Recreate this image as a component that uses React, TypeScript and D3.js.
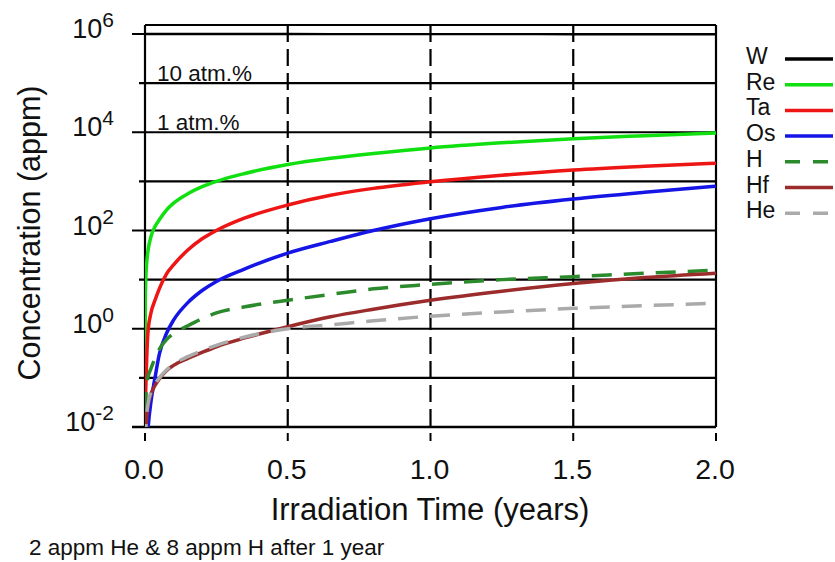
import React from "react";
import * as d3 from "d3";

const T = [0.00002, 0.001, 0.003, 0.006, 0.01, 0.02, 0.035, 0.05, 0.075, 0.1, 0.15, 0.2, 0.25, 0.35, 0.5, 0.65, 0.8, 1.0, 1.25, 1.5, 1.75, 2.0];

const W = [1000000, 999990, 999970, 999940, 999900, 999800, 999700, 999600, 999500, 999400, 999100, 998800, 998500, 998000, 997300, 996500, 995700, 994700, 993300, 991800, 990400, 988800];
const Re = [0.07, 3.5, 11, 22, 37, 72, 120, 165, 260, 360, 560, 780, 1000, 1450, 2200, 2950, 3700, 4800, 6100, 7400, 8500, 9600];
const Ta = [0.001, 0.02, 0.07, 0.25, 0.8, 2, 3.8, 6.5, 13, 20, 40, 68, 100, 180, 330, 520, 720, 980, 1330, 1700, 2030, 2350];
const Os = [0.0001, 0.0005, 0.001, 0.003, 0.008, 0.03, 0.1, 0.3, 0.8, 1.5, 3.4, 6.0, 9.2, 16.6, 34.7, 60, 100, 174, 295, 436, 600, 800];
const H = [0.001, 0.02, 0.04, 0.07, 0.1, 0.15, 0.25, 0.38, 0.6, 0.8, 1.15, 1.6, 2.1, 2.8, 3.8, 5, 6.5, 8, 10, 11.5, 13.5, 15.5];
const Hf = [0.001, 0.003, 0.008, 0.015, 0.025, 0.045, 0.07, 0.095, 0.14, 0.18, 0.25, 0.33, 0.43, 0.65, 1.1, 1.75, 2.5, 3.8, 5.8, 8.3, 11, 13.5];
const He = [0.001, 0.004, 0.01, 0.018, 0.028, 0.05, 0.075, 0.1, 0.145, 0.19, 0.27, 0.36, 0.46, 0.68, 1.0, 1.2, 1.45, 1.8, 2.2, 2.6, 2.95, 3.3];

const SERIES_NAMES = ["W", "Re", "Ta", "Os", "H", "Hf", "He"];
const SERIES_VALUES = [W, Re, Ta, Os, H, Hf, He];
const SERIES_COLORS = ["#000000", "#10e010", "#ee1515", "#1515e6", "#2b8a2b", "#9c2b2b", "#aaaaaa"];
const SERIES_DASHED = [false, false, false, false, true, false, true];

const X_TICKS = [0, 0.5, 1.0, 1.5, 2.0];
const X_DASHED = [0.5, 1.0, 1.5];
const Y_DECADES = [6, 5, 4, 3, 2, 1, 0, -1, -2];
const Y_LABELED = [6, 4, 2, 0, -2];
const ANNOTATIONS = [
  { text: "10 atm.%", value: 1e5 },
  { text: "1 atm.%", value: 1e4 },
];

const FONT = "'Liberation Sans', Arial, Helvetica, sans-serif";

export default function App() {
  const left = 145, right = 716, top = 25, bottom = 427;
  const x = d3.scaleLinear().domain([0, 2]).range([left, right]);
  const y = d3.scaleLog().domain([1e-2, 1e6]).range([bottom, 34]);
  const line = d3
    .line<number>()
    .x((_, i) => x(T[i]))
    .y((v) => y(Math.max(v, 1e-4)))
    .curve(d3.curveMonotoneX);

  const legendX0 = 785, legendX1 = 833, legendY0 = 59, legendStep = 25.7;

  return (
    <svg width={835} height={562} style={{ position: "absolute", left: 0, top: 0, background: "#fff" }} fontFamily={FONT}>
      <defs>
        <clipPath id="plot">
          <rect x={left} y={top} width={right - left} height={bottom - top} />
        </clipPath>
      </defs>
      <rect width={835} height={562} fill="#fff" />

      {Y_DECADES.map((d) => (
        <line key={"g" + d} x1={Y_LABELED.includes(d) ? 132 : 139} x2={right} y1={y(Math.pow(10, d))} y2={y(Math.pow(10, d))} stroke="#000" strokeWidth={2.2} />
      ))}

      {X_DASHED.map((t) => (
        <line key={"v" + t} x1={x(t)} x2={x(t)} y1={top} y2={bottom} stroke="#000" strokeWidth={2.2} strokeDasharray="17 7" />
      ))}

      <line x1={left} x2={right} y1={top} y2={top} stroke="#000" strokeWidth={2.2} />
      <line x1={left} x2={left} y1={top} y2={bottom} stroke="#000" strokeWidth={2.2} />
      <line x1={right} x2={right} y1={top} y2={bottom} stroke="#000" strokeWidth={2.2} />
      <line x1={132} x2={right} y1={bottom} y2={bottom} stroke="#000" strokeWidth={2.4} />

      {X_TICKS.map((t) => (
        <line key={"xt" + t} x1={x(t)} x2={x(t)} y1={433} y2={441} stroke="#000" strokeWidth={2} />
      ))}

      {ANNOTATIONS.map((a) => (
        <text key={a.text} x={157} y={y(a.value) - 2} fontSize={22.5} fill="#111">
          {a.text}
        </text>
      ))}

      <g clipPath="url(#plot)">
        {SERIES_VALUES.map((vals, i) => (
          <path
            key={SERIES_NAMES[i]}
            d={line(vals) || ""}
            fill="none"
            stroke={SERIES_COLORS[i]}
            strokeWidth={i === 0 ? 2.4 : 3.5}
            strokeDasharray={SERIES_DASHED[i] ? "20 12" : undefined}
          />
        ))}
      </g>

      {Y_LABELED.map((d) => (
        <text key={"yl" + d} x={114} y={y(Math.pow(10, d)) + 4} textAnchor="end" fontSize={27} fill="#111">
          10
          <tspan dy={-11} fontSize={21}>
            {d < 0 ? "-" + Math.abs(d) : String(d)}
          </tspan>
        </text>
      ))}

      {X_TICKS.map((t) => (
        <text key={"xl" + t} x={x(t) - 1} y={479} textAnchor="middle" fontSize={28.5} fill="#111">
          {t.toFixed(1)}
        </text>
      ))}

      <text x={430} y={520} textAnchor="middle" fontSize={31} fill="#111">
        Irradiation Time (years)
      </text>
      <text transform="translate(40,233) rotate(-90)" textAnchor="middle" fontSize={30.5} fill="#111">
        Concentration (appm)
      </text>

      <text x={29} y={555} fontSize={22.5} fill="#111">
        2 appm He &amp; 8 appm H after 1 year
      </text>

      {SERIES_NAMES.map((name, i) => {
        const ly = legendY0 + i * legendStep;
        return (
          <g key={"lg" + name}>
            <text x={746} y={ly + 5} fontSize={23} fill="#111">
              {name}
            </text>
            <line
              x1={legendX0}
              x2={legendX1}
              y1={ly}
              y2={ly}
              stroke={SERIES_COLORS[i]}
              strokeWidth={3.5}
              strokeDasharray={SERIES_DASHED[i] ? "15 13" : undefined}
            />
          </g>
        );
      })}
    </svg>
  );
}
